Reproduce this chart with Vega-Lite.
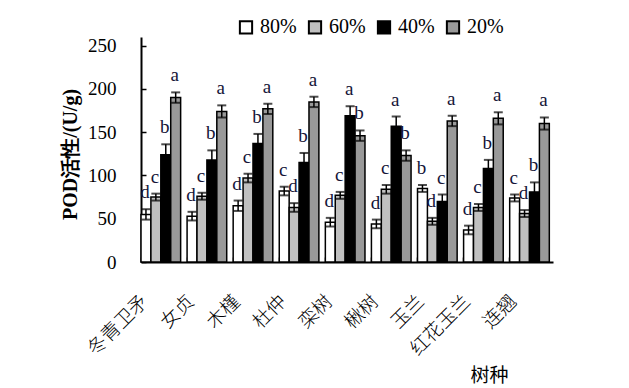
{
  "$schema": "https://vega.github.io/schema/vega-lite/v6.json",
  "width": 412,
  "height": 225,
  "autosize": {"type": "none"},
  "padding": {"left": 141, "top": 37, "right": 76, "bottom": 126},
  "config": {"view": {"stroke": null}, "font": "Times New Roman, Liberation Serif, serif"},
  "data": {
    "values": [
      {"tree": "冬青卫矛", "level": "80%", "value": 55, "lo": 49, "hi": 61, "letter": "d"},
      {"tree": "冬青卫矛", "level": "60%", "value": 75, "lo": 71, "hi": 79, "letter": "c"},
      {"tree": "冬青卫矛", "level": "40%", "value": 124, "lo": 112, "hi": 136, "letter": "b"},
      {"tree": "冬青卫矛", "level": "20%", "value": 190, "lo": 184, "hi": 196, "letter": "a"},
      {"tree": "女贞", "level": "80%", "value": 53, "lo": 48, "hi": 58, "letter": "d"},
      {"tree": "女贞", "level": "60%", "value": 76, "lo": 72, "hi": 80, "letter": "c"},
      {"tree": "女贞", "level": "40%", "value": 118, "lo": 107, "hi": 129, "letter": "b"},
      {"tree": "女贞", "level": "20%", "value": 174, "lo": 167, "hi": 181, "letter": "a"},
      {"tree": "木槿", "level": "80%", "value": 65, "lo": 59, "hi": 71, "letter": "d"},
      {"tree": "木槿", "level": "60%", "value": 97, "lo": 92, "hi": 102, "letter": "c"},
      {"tree": "木槿", "level": "40%", "value": 137, "lo": 126, "hi": 148, "letter": "b"},
      {"tree": "木槿", "level": "20%", "value": 177, "lo": 171, "hi": 183, "letter": "a"},
      {"tree": "杜仲", "level": "80%", "value": 82, "lo": 77, "hi": 87, "letter": "c"},
      {"tree": "杜仲", "level": "60%", "value": 63, "lo": 58, "hi": 68, "letter": "d"},
      {"tree": "杜仲", "level": "40%", "value": 115, "lo": 104, "hi": 126, "letter": "b"},
      {"tree": "杜仲", "level": "20%", "value": 185, "lo": 179, "hi": 191, "letter": "a"},
      {"tree": "栾树", "level": "80%", "value": 46, "lo": 41, "hi": 51, "letter": "d"},
      {"tree": "栾树", "level": "60%", "value": 77, "lo": 73, "hi": 81, "letter": "c"},
      {"tree": "栾树", "level": "40%", "value": 169, "lo": 158, "hi": 180, "letter": "a"},
      {"tree": "栾树", "level": "20%", "value": 146, "lo": 140, "hi": 152, "letter": "b"},
      {"tree": "楸树", "level": "80%", "value": 44, "lo": 39, "hi": 49, "letter": "d"},
      {"tree": "楸树", "level": "60%", "value": 84, "lo": 79, "hi": 89, "letter": "c"},
      {"tree": "楸树", "level": "40%", "value": 157, "lo": 146, "hi": 168, "letter": "a"},
      {"tree": "楸树", "level": "20%", "value": 123, "lo": 117, "hi": 129, "letter": "b"},
      {"tree": "玉兰", "level": "80%", "value": 85, "lo": 81, "hi": 89, "letter": "b"},
      {"tree": "玉兰", "level": "60%", "value": 47, "lo": 43, "hi": 51, "letter": "d"},
      {"tree": "玉兰", "level": "40%", "value": 70, "lo": 62, "hi": 78, "letter": "c"},
      {"tree": "玉兰", "level": "20%", "value": 163, "lo": 157, "hi": 169, "letter": "a"},
      {"tree": "红花玉兰", "level": "80%", "value": 37, "lo": 32, "hi": 42, "letter": "d"},
      {"tree": "红花玉兰", "level": "60%", "value": 63, "lo": 59, "hi": 67, "letter": "c"},
      {"tree": "红花玉兰", "level": "40%", "value": 108, "lo": 98, "hi": 118, "letter": "b"},
      {"tree": "红花玉兰", "level": "20%", "value": 166, "lo": 159, "hi": 173, "letter": "a"},
      {"tree": "连翘", "level": "80%", "value": 74, "lo": 70, "hi": 78, "letter": "c"},
      {"tree": "连翘", "level": "60%", "value": 56, "lo": 52, "hi": 60, "letter": "d"},
      {"tree": "连翘", "level": "40%", "value": 81, "lo": 70, "hi": 92, "letter": "b"},
      {"tree": "连翘", "level": "20%", "value": 160, "lo": 153, "hi": 167, "letter": "a"}
    ]
  },
  "encoding": {
    "x": {
      "field": "tree",
      "type": "nominal",
      "sort": ["冬青卫矛", "女贞", "木槿", "杜仲", "栾树", "楸树", "玉兰", "红花玉兰", "连翘"],
      "scale": {"paddingInner": 0.14, "paddingOuter": 0.04, "align": 0},
      "axis": {
        "title": "树种",
        "titleFont": "Noto Sans CJK SC",
        "titleFontSize": 19,
        "titleFontWeight": "normal",
        "titleColor": "black",
        "titleX": 348,
        "titleY": 113,
        "titleAlign": "center",
        "titleBaseline": "middle",
        "labelFont": "Noto Sans CJK SC",
        "labelFontSize": 19,
        "labelFontWeight": 300,
        "labelColor": "black",
        "labelAngle": -45,
        "labelAlign": "right",
        "labelBaseline": "middle",
        "labelPadding": 41,
        "labelOffset": -16,
        "bandPosition": 0,
        "tickSize": -5,
        "tickColor": "black",
        "tickWidth": 1.5,
        "domainColor": "black",
        "domainWidth": 2,
        "grid": false
      }
    },
    "xOffset": {
      "field": "level",
      "type": "nominal",
      "sort": ["80%", "60%", "40%", "20%"],
      "scale": {"paddingInner": 0, "paddingOuter": 0}
    }
  },
  "layer": [
    {
      "mark": {"type": "bar", "stroke": "black", "strokeWidth": 1.5},
      "encoding": {
        "y": {
          "field": "value",
          "type": "quantitative",
          "scale": {"domain": [0, 250]},
          "axis": {
            "title": "POD活性/(U/g)",
            "titleFont": "Times New Roman, Liberation Serif, serif",
            "titleFontSize": 20,
            "titleFontWeight": "bold",
            "titleColor": "black",
            "titleAngle": 270,
            "titleX": -71,
            "titleY": 117,
            "titleAlign": "center",
            "titleBaseline": "middle",
            "values": [0, 50, 100, 150, 200, 250],
            "labelFont": "Times New Roman, Liberation Serif, serif",
            "labelFontSize": 19,
            "labelColor": "black",
            "labelPadding": 30,
            "tickSize": -5,
            "tickColor": "black",
            "tickWidth": 1.5,
            "domainColor": "black",
            "domainWidth": 2,
            "grid": false
          }
        },
        "fill": {
          "field": "level",
          "type": "nominal",
          "scale": {"domain": ["80%", "60%", "40%", "20%"], "range": ["#ffffff", "#c0c0c0", "#000000", "#999999"]},
          "legend": {
            "orient": "none",
            "legendX": 95,
            "legendY": -20,
            "direction": "horizontal",
            "title": null,
            "padding": 0,
            "symbolType": "square",
            "symbolSize": 150,
            "symbolStrokeColor": "black",
            "symbolStrokeWidth": 2,
            "symbolOpacity": 1,
            "labelFont": "Times New Roman, Liberation Serif, serif",
            "labelFontSize": 20,
            "labelColor": "black",
            "labelOffset": 4,
            "columnPadding": 7
          }
        }
      }
    },
    {
      "mark": {"type": "rule", "color": "black", "strokeWidth": 1.5},
      "encoding": {"y": {"field": "lo", "type": "quantitative"}, "y2": {"field": "hi"}}
    },
    {
      "mark": {"type": "tick", "color": "black", "thickness": 2, "size": 9},
      "encoding": {"y": {"field": "hi", "type": "quantitative"}}
    },
    {
      "mark": {"type": "tick", "color": "black", "thickness": 2, "size": 9},
      "encoding": {"y": {"field": "lo", "type": "quantitative"}}
    },
    {
      "mark": {"type": "text", "baseline": "alphabetic", "dy": -11, "dx": -1, "fontSize": 19, "font": "Times New Roman, Liberation Serif, serif", "color": "#141438"},
      "encoding": {"y": {"field": "hi", "type": "quantitative"}, "text": {"field": "letter"}}
    }
  ]
}
